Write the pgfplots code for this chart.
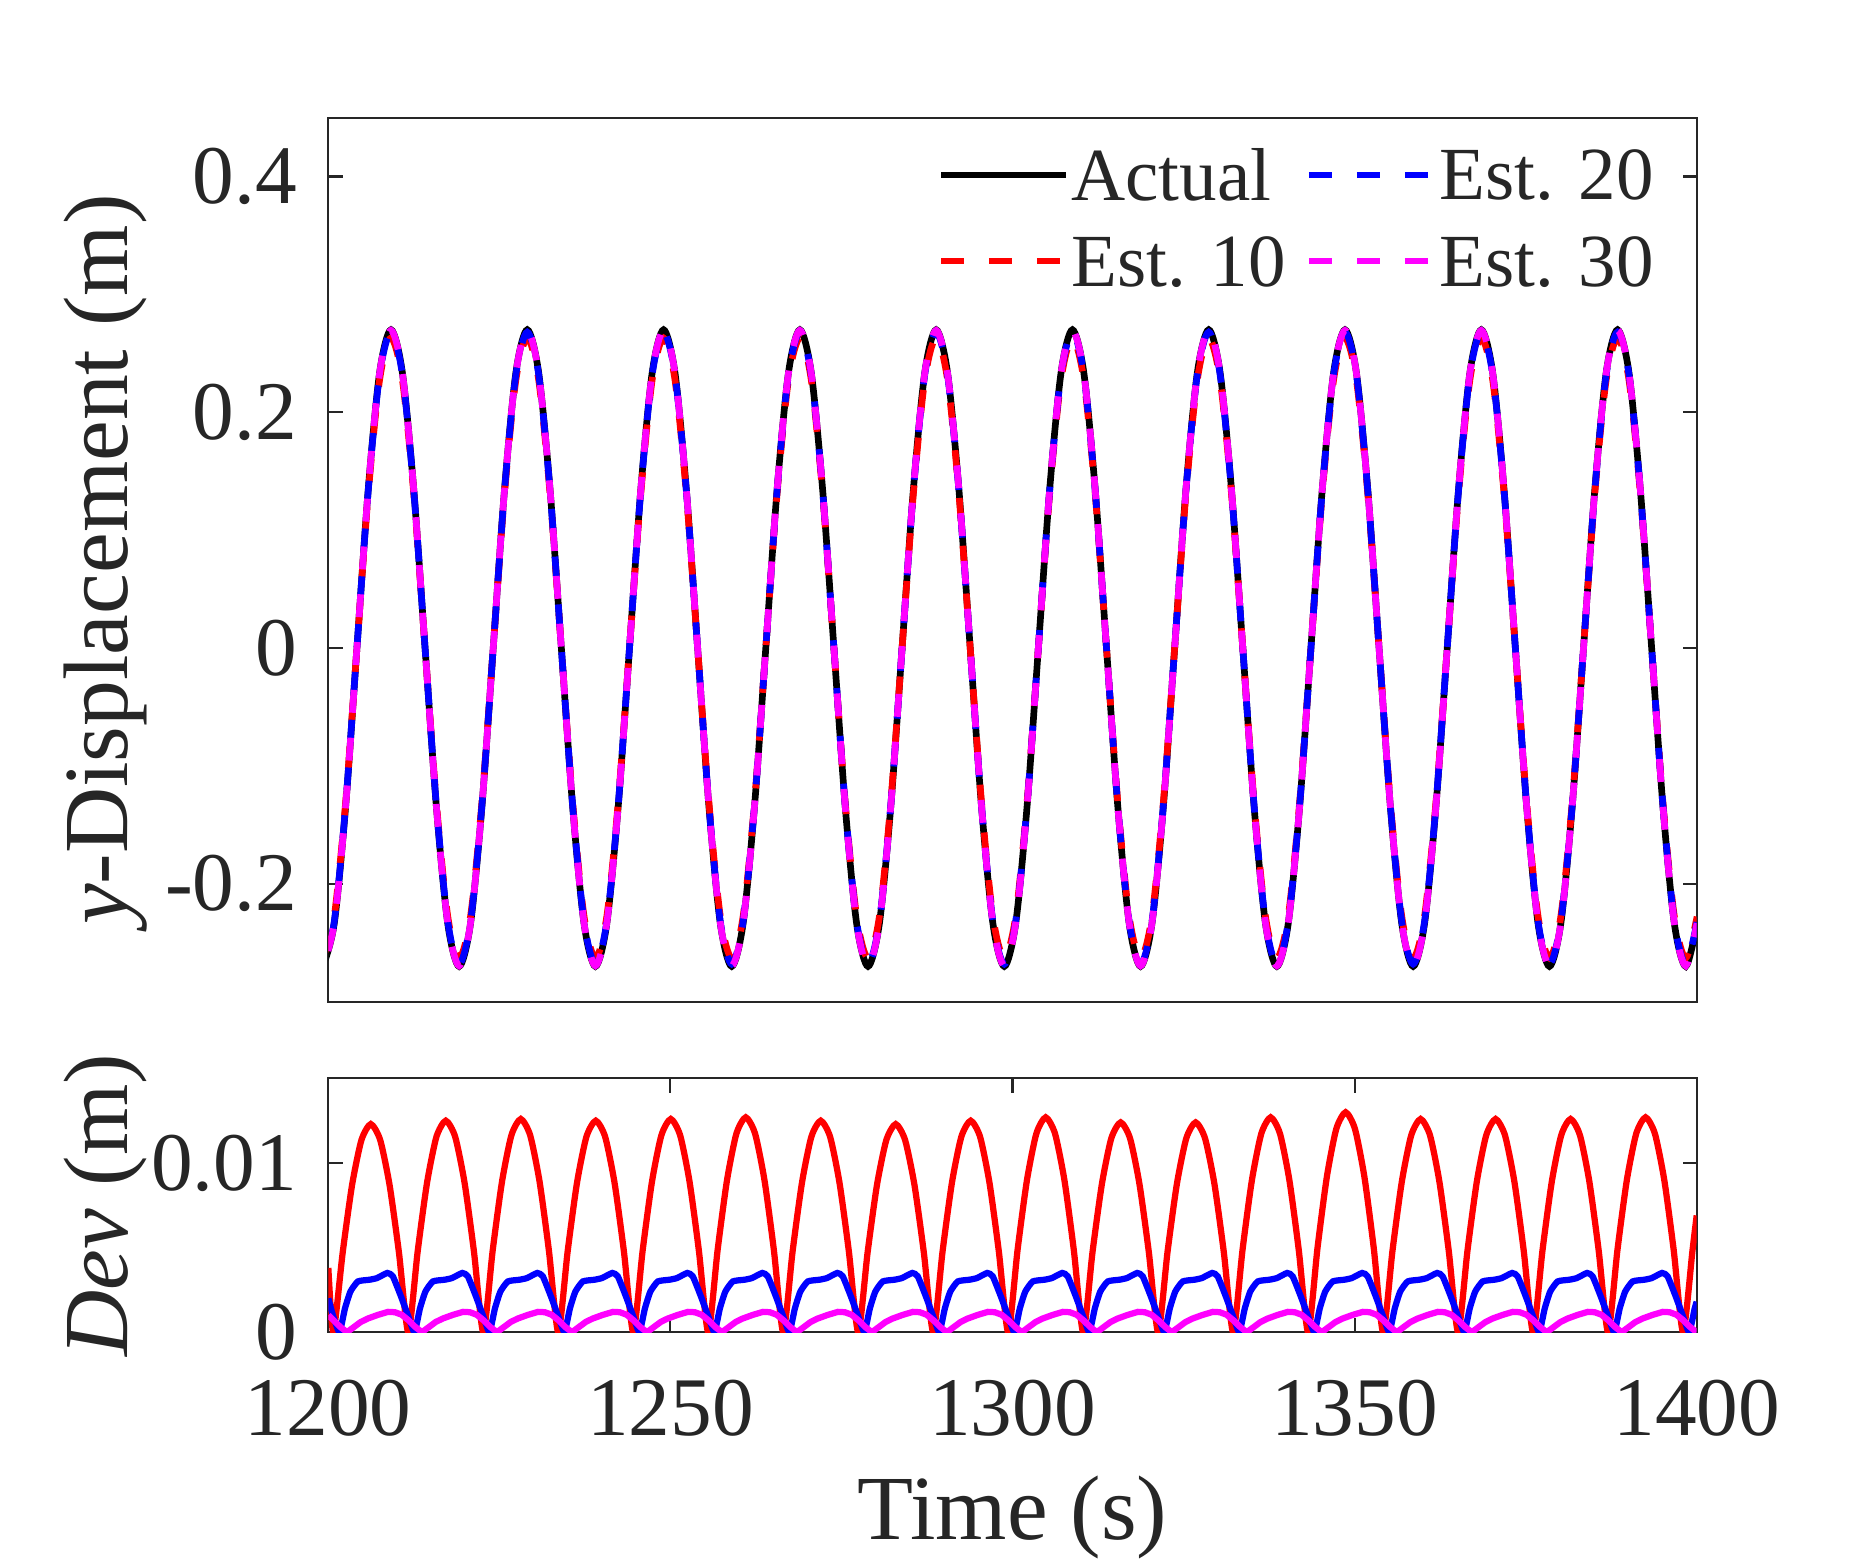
\documentclass[border=0pt]{standalone}
\usepackage{fontspec}
\setmainfont{Liberation Serif}
\usepackage{pgfplots}
\pgfplotsset{compat=1.18}
\usepackage{pgfplotstable}
\definecolor{axgray}{rgb}{0.15,0.15,0.15}
\definecolor{mag}{rgb}{1,0,1}

\pgfplotstableread{
t a b c d
1199.20 -0.2700 -0.2630 -0.2680 -0.2695
1200.86 -0.2338 -0.2278 -0.2321 -0.2334
1202.52 -0.1350 -0.1315 -0.1340 -0.1348
1204.18 0 0 0 0
1205.84 0.1350 0.1315 0.1340 0.1348
1207.50 0.2338 0.2278 0.2321 0.2334
1209.16 0.2700 0.2630 0.2680 0.2695
1210.82 0.2338 0.2278 0.2321 0.2334
1212.48 0.1350 0.1315 0.1340 0.1348
1214.14 0 0 0 0
1215.80 -0.1350 -0.1315 -0.1340 -0.1348
1217.46 -0.2338 -0.2278 -0.2321 -0.2334
1219.12 -0.2700 -0.2630 -0.2680 -0.2695
1220.78 -0.2338 -0.2278 -0.2321 -0.2334
1222.44 -0.1350 -0.1315 -0.1340 -0.1348
1224.10 0 0 0 0
1225.76 0.1350 0.1315 0.1340 0.1348
1227.42 0.2338 0.2278 0.2321 0.2334
1229.08 0.2700 0.2630 0.2680 0.2695
1230.74 0.2338 0.2278 0.2321 0.2334
1232.40 0.1350 0.1315 0.1340 0.1348
1234.06 0 0 0 0
1235.72 -0.1350 -0.1315 -0.1340 -0.1348
1237.38 -0.2338 -0.2278 -0.2321 -0.2334
1239.04 -0.2700 -0.2630 -0.2680 -0.2695
1240.70 -0.2338 -0.2278 -0.2321 -0.2334
1242.36 -0.1350 -0.1315 -0.1340 -0.1348
1244.02 0 0 0 0
1245.68 0.1350 0.1315 0.1340 0.1348
1247.34 0.2338 0.2278 0.2321 0.2334
1249.00 0.2700 0.2630 0.2680 0.2695
1250.66 0.2338 0.2278 0.2321 0.2334
1252.32 0.1350 0.1315 0.1340 0.1348
1253.98 0 0 0 0
1255.64 -0.1350 -0.1315 -0.1340 -0.1348
1257.30 -0.2338 -0.2278 -0.2321 -0.2334
1258.96 -0.2700 -0.2630 -0.2680 -0.2695
1260.62 -0.2338 -0.2278 -0.2321 -0.2334
1262.28 -0.1350 -0.1315 -0.1340 -0.1348
1263.94 0 0 0 0
1265.60 0.1350 0.1315 0.1340 0.1348
1267.26 0.2338 0.2278 0.2321 0.2334
1268.92 0.2700 0.2630 0.2680 0.2695
1270.58 0.2338 0.2278 0.2321 0.2334
1272.24 0.1350 0.1315 0.1340 0.1348
1273.90 0 0 0 0
1275.56 -0.1350 -0.1315 -0.1340 -0.1348
1277.22 -0.2338 -0.2278 -0.2321 -0.2334
1278.88 -0.2700 -0.2630 -0.2680 -0.2695
1280.54 -0.2338 -0.2278 -0.2321 -0.2334
1282.20 -0.1350 -0.1315 -0.1340 -0.1348
1283.86 0 0 0 0
1285.52 0.1350 0.1315 0.1340 0.1348
1287.18 0.2338 0.2278 0.2321 0.2334
1288.84 0.2700 0.2630 0.2680 0.2695
1290.50 0.2338 0.2278 0.2321 0.2334
1292.16 0.1350 0.1315 0.1340 0.1348
1293.82 0 0 0 0
1295.48 -0.1350 -0.1315 -0.1340 -0.1348
1297.14 -0.2338 -0.2278 -0.2321 -0.2334
1298.80 -0.2700 -0.2630 -0.2680 -0.2695
1300.46 -0.2338 -0.2278 -0.2321 -0.2334
1302.12 -0.1350 -0.1315 -0.1340 -0.1348
1303.78 0 0 0 0
1305.44 0.1350 0.1315 0.1340 0.1348
1307.10 0.2338 0.2278 0.2321 0.2334
1308.76 0.2700 0.2630 0.2680 0.2695
1310.42 0.2338 0.2278 0.2321 0.2334
1312.08 0.1350 0.1315 0.1340 0.1348
1313.74 0 0 0 0
1315.40 -0.1350 -0.1315 -0.1340 -0.1348
1317.06 -0.2338 -0.2278 -0.2321 -0.2334
1318.72 -0.2700 -0.2630 -0.2680 -0.2695
1320.38 -0.2338 -0.2278 -0.2321 -0.2334
1322.04 -0.1350 -0.1315 -0.1340 -0.1348
1323.70 0 0 0 0
1325.36 0.1350 0.1315 0.1340 0.1348
1327.02 0.2338 0.2278 0.2321 0.2334
1328.68 0.2700 0.2630 0.2680 0.2695
1330.34 0.2338 0.2278 0.2321 0.2334
1332.00 0.1350 0.1315 0.1340 0.1348
1333.66 0 0 0 0
1335.32 -0.1350 -0.1315 -0.1340 -0.1348
1336.98 -0.2338 -0.2278 -0.2321 -0.2334
1338.64 -0.2700 -0.2630 -0.2680 -0.2695
1340.30 -0.2338 -0.2278 -0.2321 -0.2334
1341.96 -0.1350 -0.1315 -0.1340 -0.1348
1343.62 0 0 0 0
1345.28 0.1350 0.1315 0.1340 0.1348
1346.94 0.2338 0.2278 0.2321 0.2334
1348.60 0.2700 0.2630 0.2680 0.2695
1350.26 0.2338 0.2278 0.2321 0.2334
1351.92 0.1350 0.1315 0.1340 0.1348
1353.58 0 0 0 0
1355.24 -0.1350 -0.1315 -0.1340 -0.1348
1356.90 -0.2338 -0.2278 -0.2321 -0.2334
1358.56 -0.2700 -0.2630 -0.2680 -0.2695
1360.22 -0.2338 -0.2278 -0.2321 -0.2334
1361.88 -0.1350 -0.1315 -0.1340 -0.1348
1363.54 0 0 0 0
1365.20 0.1350 0.1315 0.1340 0.1348
1366.86 0.2338 0.2278 0.2321 0.2334
1368.52 0.2700 0.2630 0.2680 0.2695
1370.18 0.2338 0.2278 0.2321 0.2334
1371.84 0.1350 0.1315 0.1340 0.1348
1373.50 0 0 0 0
1375.16 -0.1350 -0.1315 -0.1340 -0.1348
1376.82 -0.2338 -0.2278 -0.2321 -0.2334
1378.48 -0.2700 -0.2630 -0.2680 -0.2695
1380.14 -0.2338 -0.2278 -0.2321 -0.2334
1381.80 -0.1350 -0.1315 -0.1340 -0.1348
1383.46 0 0 0 0
1385.12 0.1350 0.1315 0.1340 0.1348
1386.78 0.2338 0.2278 0.2321 0.2334
1388.44 0.2700 0.2630 0.2680 0.2695
1390.10 0.2338 0.2278 0.2321 0.2334
1391.76 0.1350 0.1315 0.1340 0.1348
1393.42 0 0 0 0
1395.08 -0.1350 -0.1315 -0.1340 -0.1348
1396.74 -0.2338 -0.2278 -0.2321 -0.2334
1398.40 -0.2700 -0.2630 -0.2680 -0.2695
1400.06 -0.2338 -0.2278 -0.2321 -0.2334
}\topdata

\pgfplotstableread{
t v
1200.00 0.00380
1200.73 0
1202.10 0.00471
1203.47 0.00870
1204.84 0.01136
1206.21 0.01230
1207.58 0.01136
1208.95 0.00870
1210.32 0.00471
1211.69 0
1213.06 0.00478
1214.43 0.00884
1215.80 0.01155
1217.17 0.01250
1218.54 0.01155
1219.91 0.00884
1221.28 0.00478
1222.65 0
1224.02 0.00482
1225.39 0.00891
1226.76 0.01164
1228.13 0.01260
1229.50 0.01164
1230.87 0.00891
1232.24 0.00482
1233.61 0
1234.98 0.00478
1236.35 0.00884
1237.72 0.01155
1239.09 0.01250
1240.46 0.01155
1241.83 0.00884
1243.20 0.00478
1244.57 0
1245.94 0.00482
1247.31 0.00891
1248.68 0.01164
1250.05 0.01260
1251.42 0.01164
1252.79 0.00891
1254.16 0.00482
1255.53 0
1256.90 0.00486
1258.27 0.00898
1259.64 0.01173
1261.01 0.01270
1262.38 0.01173
1263.75 0.00898
1265.12 0.00486
1266.49 0
1267.86 0.00478
1269.23 0.00884
1270.60 0.01155
1271.97 0.01250
1273.34 0.01155
1274.71 0.00884
1276.08 0.00478
1277.45 0
1278.82 0.00471
1280.19 0.00870
1281.56 0.01136
1282.93 0.01230
1284.30 0.01136
1285.67 0.00870
1287.04 0.00471
1288.41 0
1289.78 0.00478
1291.15 0.00884
1292.52 0.01155
1293.89 0.01250
1295.26 0.01155
1296.63 0.00884
1298.00 0.00478
1299.37 0
1300.74 0.00486
1302.11 0.00898
1303.48 0.01173
1304.85 0.01270
1306.22 0.01173
1307.59 0.00898
1308.96 0.00486
1310.33 0
1311.70 0.00475
1313.07 0.00877
1314.44 0.01146
1315.81 0.01240
1317.18 0.01146
1318.55 0.00877
1319.92 0.00475
1321.29 0
1322.66 0.00475
1324.03 0.00877
1325.40 0.01146
1326.77 0.01240
1328.14 0.01146
1329.51 0.00877
1330.88 0.00475
1332.25 0
1333.62 0.00486
1334.99 0.00898
1336.36 0.01173
1337.73 0.01270
1339.10 0.01173
1340.47 0.00898
1341.84 0.00486
1343.21 0
1344.58 0.00498
1345.95 0.00919
1347.32 0.01201
1348.69 0.01300
1350.06 0.01201
1351.43 0.00919
1352.80 0.00498
1354.17 0
1355.54 0.00482
1356.91 0.00891
1358.28 0.01164
1359.65 0.01260
1361.02 0.01164
1362.39 0.00891
1363.76 0.00482
1365.13 0
1366.50 0.00482
1367.87 0.00891
1369.24 0.01164
1370.61 0.01260
1371.98 0.01164
1373.35 0.00891
1374.72 0.00482
1376.09 0
1377.46 0.00482
1378.83 0.00891
1380.20 0.01164
1381.57 0.01260
1382.94 0.01164
1384.31 0.00891
1385.68 0.00482
1387.05 0
1388.42 0.00486
1389.79 0.00898
1391.16 0.01173
1392.53 0.01270
1393.90 0.01173
1395.27 0.00898
1396.64 0.00486
1398.01 0
1399.38 0.00480
1400.00 0.00690
}\devred

\pgfplotstableread{
t v
1200.00 0.0020
1200.67 0.0010
1201.63 0
1202.43 0.0014
1203.23 0.0024
1204.33 0.0030
1206.03 0.0031
1207.13 0.0032
1208.63 0.0035
1209.43 0.0033
1210.63 0.0021
1211.63 0.0010
1212.59 0
1213.39 0.0014
1214.19 0.0024
1215.29 0.0030
1216.99 0.0031
1218.09 0.0032
1219.59 0.0035
1220.39 0.0033
1221.59 0.0021
1222.59 0.0010
1223.55 0
1224.35 0.0014
1225.15 0.0024
1226.25 0.0030
1227.95 0.0031
1229.05 0.0032
1230.55 0.0035
1231.35 0.0033
1232.55 0.0021
1233.55 0.0010
1234.51 0
1235.31 0.0014
1236.11 0.0024
1237.21 0.0030
1238.91 0.0031
1240.01 0.0032
1241.51 0.0035
1242.31 0.0033
1243.51 0.0021
1244.51 0.0010
1245.47 0
1246.27 0.0014
1247.07 0.0024
1248.17 0.0030
1249.87 0.0031
1250.97 0.0032
1252.47 0.0035
1253.27 0.0033
1254.47 0.0021
1255.47 0.0010
1256.43 0
1257.23 0.0014
1258.03 0.0024
1259.13 0.0030
1260.83 0.0031
1261.93 0.0032
1263.43 0.0035
1264.23 0.0033
1265.43 0.0021
1266.43 0.0010
1267.39 0
1268.19 0.0014
1268.99 0.0024
1270.09 0.0030
1271.79 0.0031
1272.89 0.0032
1274.39 0.0035
1275.19 0.0033
1276.39 0.0021
1277.39 0.0010
1278.35 0
1279.15 0.0014
1279.95 0.0024
1281.05 0.0030
1282.75 0.0031
1283.85 0.0032
1285.35 0.0035
1286.15 0.0033
1287.35 0.0021
1288.35 0.0010
1289.31 0
1290.11 0.0014
1290.91 0.0024
1292.01 0.0030
1293.71 0.0031
1294.81 0.0032
1296.31 0.0035
1297.11 0.0033
1298.31 0.0021
1299.31 0.0010
1300.27 0
1301.07 0.0014
1301.87 0.0024
1302.97 0.0030
1304.67 0.0031
1305.77 0.0032
1307.27 0.0035
1308.07 0.0033
1309.27 0.0021
1310.27 0.0010
1311.23 0
1312.03 0.0014
1312.83 0.0024
1313.93 0.0030
1315.63 0.0031
1316.73 0.0032
1318.23 0.0035
1319.03 0.0033
1320.23 0.0021
1321.23 0.0010
1322.19 0
1322.99 0.0014
1323.79 0.0024
1324.89 0.0030
1326.59 0.0031
1327.69 0.0032
1329.19 0.0035
1329.99 0.0033
1331.19 0.0021
1332.19 0.0010
1333.15 0
1333.95 0.0014
1334.75 0.0024
1335.85 0.0030
1337.55 0.0031
1338.65 0.0032
1340.15 0.0035
1340.95 0.0033
1342.15 0.0021
1343.15 0.0010
1344.11 0
1344.91 0.0014
1345.71 0.0024
1346.81 0.0030
1348.51 0.0031
1349.61 0.0032
1351.11 0.0035
1351.91 0.0033
1353.11 0.0021
1354.11 0.0010
1355.07 0
1355.87 0.0014
1356.67 0.0024
1357.77 0.0030
1359.47 0.0031
1360.57 0.0032
1362.07 0.0035
1362.87 0.0033
1364.07 0.0021
1365.07 0.0010
1366.03 0
1366.83 0.0014
1367.63 0.0024
1368.73 0.0030
1370.43 0.0031
1371.53 0.0032
1373.03 0.0035
1373.83 0.0033
1375.03 0.0021
1376.03 0.0010
1376.99 0
1377.79 0.0014
1378.59 0.0024
1379.69 0.0030
1381.39 0.0031
1382.49 0.0032
1383.99 0.0035
1384.79 0.0033
1385.99 0.0021
1386.99 0.0010
1387.95 0
1388.75 0.0014
1389.55 0.0024
1390.65 0.0030
1392.35 0.0031
1393.45 0.0032
1394.95 0.0035
1395.75 0.0033
1396.95 0.0021
1397.95 0.0010
1398.91 0
1399.71 0.0014
1400.00 0.0018
}\devblue

\pgfplotstableread{
t v
1200.00 0.00100
1200.77 0.00070
1201.77 0.00030
1202.73 0
1203.73 0.00030
1204.73 0.00060
1205.73 0.00080
1207.23 0.00102
1208.73 0.00120
1209.73 0.00118
1210.73 0.00103
1211.73 0.00070
1212.73 0.00030
1213.69 0
1214.69 0.00030
1215.69 0.00060
1216.69 0.00080
1218.19 0.00102
1219.69 0.00120
1220.69 0.00118
1221.69 0.00103
1222.69 0.00070
1223.69 0.00030
1224.65 0
1225.65 0.00030
1226.65 0.00060
1227.65 0.00080
1229.15 0.00102
1230.65 0.00120
1231.65 0.00118
1232.65 0.00103
1233.65 0.00070
1234.65 0.00030
1235.61 0
1236.61 0.00030
1237.61 0.00060
1238.61 0.00080
1240.11 0.00102
1241.61 0.00120
1242.61 0.00118
1243.61 0.00103
1244.61 0.00070
1245.61 0.00030
1246.57 0
1247.57 0.00030
1248.57 0.00060
1249.57 0.00080
1251.07 0.00102
1252.57 0.00120
1253.57 0.00118
1254.57 0.00103
1255.57 0.00070
1256.57 0.00030
1257.53 0
1258.53 0.00030
1259.53 0.00060
1260.53 0.00080
1262.03 0.00102
1263.53 0.00120
1264.53 0.00118
1265.53 0.00103
1266.53 0.00070
1267.53 0.00030
1268.49 0
1269.49 0.00030
1270.49 0.00060
1271.49 0.00080
1272.99 0.00102
1274.49 0.00120
1275.49 0.00118
1276.49 0.00103
1277.49 0.00070
1278.49 0.00030
1279.45 0
1280.45 0.00030
1281.45 0.00060
1282.45 0.00080
1283.95 0.00102
1285.45 0.00120
1286.45 0.00118
1287.45 0.00103
1288.45 0.00070
1289.45 0.00030
1290.41 0
1291.41 0.00030
1292.41 0.00060
1293.41 0.00080
1294.91 0.00102
1296.41 0.00120
1297.41 0.00118
1298.41 0.00103
1299.41 0.00070
1300.41 0.00030
1301.37 0
1302.37 0.00030
1303.37 0.00060
1304.37 0.00080
1305.87 0.00102
1307.37 0.00120
1308.37 0.00118
1309.37 0.00103
1310.37 0.00070
1311.37 0.00030
1312.33 0
1313.33 0.00030
1314.33 0.00060
1315.33 0.00080
1316.83 0.00102
1318.33 0.00120
1319.33 0.00118
1320.33 0.00103
1321.33 0.00070
1322.33 0.00030
1323.29 0
1324.29 0.00030
1325.29 0.00060
1326.29 0.00080
1327.79 0.00102
1329.29 0.00120
1330.29 0.00118
1331.29 0.00103
1332.29 0.00070
1333.29 0.00030
1334.25 0
1335.25 0.00030
1336.25 0.00060
1337.25 0.00080
1338.75 0.00102
1340.25 0.00120
1341.25 0.00118
1342.25 0.00103
1343.25 0.00070
1344.25 0.00030
1345.21 0
1346.21 0.00030
1347.21 0.00060
1348.21 0.00080
1349.71 0.00102
1351.21 0.00120
1352.21 0.00118
1353.21 0.00103
1354.21 0.00070
1355.21 0.00030
1356.17 0
1357.17 0.00030
1358.17 0.00060
1359.17 0.00080
1360.67 0.00102
1362.17 0.00120
1363.17 0.00118
1364.17 0.00103
1365.17 0.00070
1366.17 0.00030
1367.13 0
1368.13 0.00030
1369.13 0.00060
1370.13 0.00080
1371.63 0.00102
1373.13 0.00120
1374.13 0.00118
1375.13 0.00103
1376.13 0.00070
1377.13 0.00030
1378.09 0
1379.09 0.00030
1380.09 0.00060
1381.09 0.00080
1382.59 0.00102
1384.09 0.00120
1385.09 0.00118
1386.09 0.00103
1387.09 0.00070
1388.09 0.00030
1389.05 0
1390.05 0.00030
1391.05 0.00060
1392.05 0.00080
1393.55 0.00102
1395.05 0.00120
1396.05 0.00118
1397.05 0.00103
1398.05 0.00070
1399.05 0.00030
1400.00 0
}\devmag

\begin{document}
\begin{tikzpicture}
\path[use as bounding box] (0pt,0pt) rectangle (450pt,375.12pt);
\pgfplotsset{
  every axis/.append style={
    scale only axis,
    width=328.4pt,
    xmin=1200, xmax=1400,
    axis line style={axgray, line width=0.5pt},
    every tick/.style={axgray, line width=0.5pt},
    major tick length=3.4pt,
    tick align=inside,
    tick pos=both,
    scaled y ticks=false,
    scaled x ticks=false,
    yticklabel style={font=\fontsize{20}{24}\selectfont, text=axgray, anchor=east, inner sep=0pt, xshift=-7.3pt},
    xticklabel style={font=\fontsize{20}{24}\selectfont, text=axgray, anchor=base, inner sep=0pt, yshift=-24.7pt},
    every axis y label/.style={at={(axis description cs:-0.1465,0.5)}, anchor=base, rotate=90, font=\fontsize{22}{26}\selectfont, text=axgray},
    every axis x label/.style={at={(axis description cs:0.5,-0.816)}, anchor=base, font=\fontsize{22}{26}\selectfont, text=axgray},
  }
}
\begin{axis}[
  at={(78.8pt,134.7pt)}, anchor=south west,
  height=212.2pt,
  ymin=-0.3, ymax=0.45,
  xtick=\empty,
  ytick={-0.2,0,0.2,0.4},
  yticklabels={-0.2,0,0.2,0.4},
  ylabel={\textit{y}-Displacement (m)},
  legend columns=2,
  legend image code/.code={\draw[#1] (0pt,0pt) -- (30pt,0pt);},
  legend style={draw=none, fill=none, inner sep=0pt, outer sep=0pt,
    at={(axis description cs:0.4455,0.9647)}, anchor=north west,
    font=\fontsize{18}{21.6}\selectfont, text=axgray,
    nodes={inner sep=0pt, text depth=0pt},
    row sep=8.5pt,
    /tikz/every odd column/.append style={column sep=0.5pt},
    /tikz/every even column/.append style={column sep=4.8pt}},
  legend cell align=left,
]
\addlegendimage{black, line width=1.5pt}
\addlegendentry{Actual}
\addlegendimage{blue, line width=1.5pt, dash pattern=on 5.5pt off 6pt}
\addlegendentry{Est. 20}
\addlegendimage{red, line width=1.5pt, dash pattern=on 5.5pt off 6pt}
\addlegendentry{Est. 10}
\addlegendimage{mag, line width=1.5pt, dash pattern=on 5.5pt off 6pt}
\addlegendentry{Est. 30}
\addplot[forget plot, black, line width=1.6pt, smooth] table[x=t, y=a] {\topdata};
\addplot[forget plot, red, line width=1.6pt, smooth, dash pattern=on 5.5pt off 6pt] table[x=t, y=b] {\topdata};
\addplot[forget plot, blue, line width=1.6pt, smooth, dash pattern=on 5.5pt off 6pt, dash phase=3.8pt] table[x=t, y=c] {\topdata};
\addplot[forget plot, mag, line width=1.6pt, smooth, dash pattern=on 5.5pt off 6pt, dash phase=7.7pt] table[x=t, y=d] {\topdata};
\end{axis}

\begin{axis}[
  at={(78.8pt,55.4pt)}, anchor=south west,
  height=60.9pt,
  ymin=0, ymax=0.015,
  xtick={1200,1250,1300,1350,1400},
  xticklabels={1200,1250,1300,1350,1400},
  ytick={0,0.01},
  yticklabels={0,0.01},
  ylabel={\textit{Dev} (m)},
  xlabel={Time (s)},
]
\addplot[red, line width=1.5pt, smooth, tension=0.4] table[x=t, y=v] {\devred};
\addplot[blue, line width=1.5pt, smooth, tension=0.3] table[x=t, y=v] {\devblue};
\addplot[mag, line width=1.5pt] table[x=t, y=v] {\devmag};
\end{axis}
\end{tikzpicture}
\end{document}
